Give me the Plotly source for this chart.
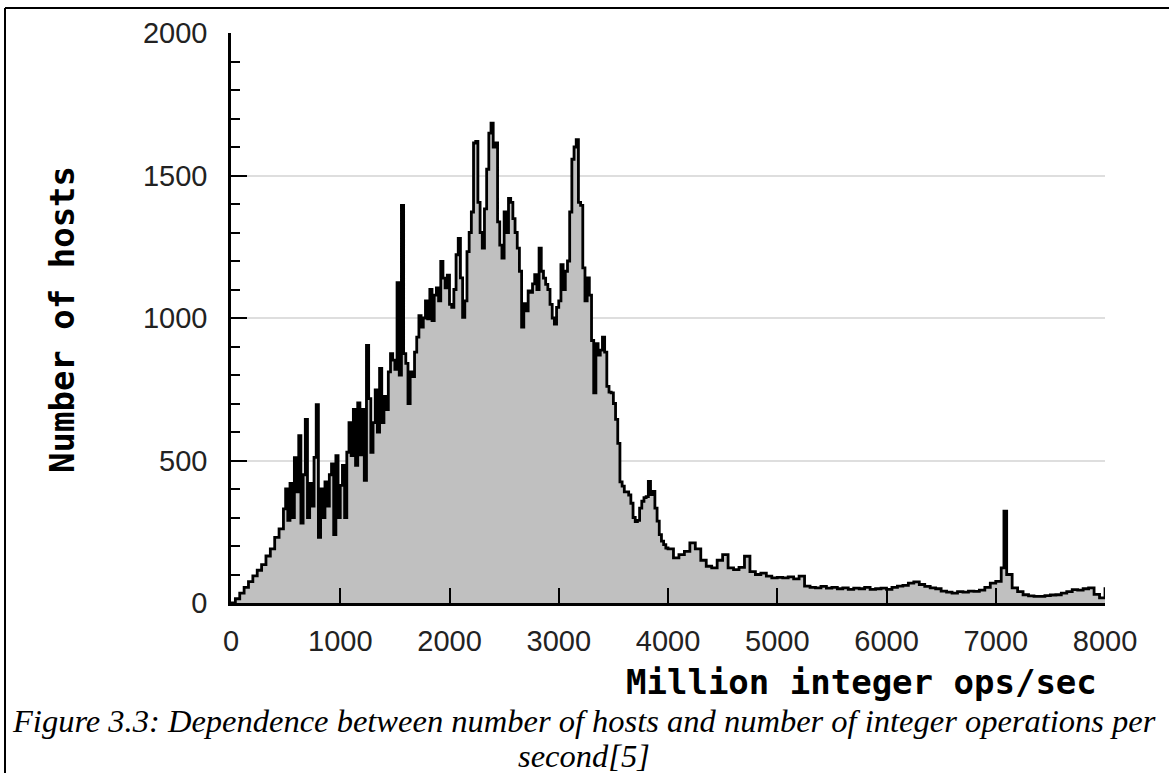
import plotly.graph_objects as go

# ---- data (x: million integer ops/sec, y: number of hosts)
x_a = [0, 40, 80, 120, 160, 200, 240, 280, 320, 360, 400, 440, 480, 500, 520, 540, 560, 580,
       600, 620, 640, 660, 680, 700, 720, 740, 760, 780, 800, 820, 840, 860, 880, 900, 920,
       940, 960, 980, 1000]
y_a = [0, 15, 35, 55, 75, 95, 115, 135, 165, 190, 230, 260, 330, 400, 290, 420, 300, 510,
       390, 587, 280, 450, 644, 300, 420, 340, 511, 696, 230, 400, 300, 425, 340, 450, 488,
       240, 517, 300, 413]

x_b = [1020, 1040, 1060, 1080, 1100, 1120, 1140, 1160, 1180, 1200, 1220, 1240, 1260, 1280,
       1300, 1320, 1340, 1360, 1380, 1400, 1420, 1440, 1460, 1480, 1500, 1520, 1540, 1560,
       1580, 1600, 1620, 1640, 1660, 1680, 1700, 1720, 1740, 1760, 1780, 1800, 1820, 1840,
       1860, 1880, 1900, 1920, 1940, 1960, 1980, 2000]
y_b = [483, 300, 529, 633, 517, 679, 483, 702, 520, 679, 430, 904, 717, 529, 633, 748, 600,
       823, 633, 725, 679, 811, 875, 852, 820, 1124, 800, 1395, 875, 841, 700, 811, 794, 880,
       933, 1008, 968, 1000, 1060, 997, 1100, 991, 1080, 1106, 1060, 1199, 1140, 1106, 1150,
       1048]

x_c = [2020, 2040, 2060, 2080, 2100, 2120, 2140, 2160, 2180, 2200, 2220, 2240, 2260, 2280,
       2300, 2320, 2340, 2360, 2380, 2400, 2420, 2440, 2460, 2480, 2500, 2520, 2540, 2560,
       2580, 2600, 2620, 2640, 2660, 2680, 2700, 2720, 2740, 2760, 2780, 2800, 2820, 2840,
       2860, 2880, 2900, 2920, 2940, 2960, 2980, 3000]
y_c = [1037, 1100, 1222, 1279, 1141, 1002, 1060, 1233, 1300, 1372, 1614, 1620, 1406, 1300,
       1245, 1383, 1522, 1649, 1684, 1600, 1614, 1337, 1256, 1210, 1372, 1300, 1420, 1406,
       1349, 1300, 1245, 1164, 968, 1050, 1025, 1095, 1090, 1120, 1152, 1100, 1245, 1164,
       1140, 1118, 1100, 1048, 1000, 979, 1037, 1060]

x_d = [3020, 3040, 3060, 3080, 3100, 3120, 3140, 3160, 3180, 3200, 3220, 3240, 3260, 3280,
       3300, 3320, 3340, 3360, 3380, 3400, 3420, 3440, 3460, 3480, 3500, 3520, 3540, 3560,
       3580, 3600, 3620, 3640, 3660, 3680, 3700, 3720, 3740, 3760, 3780, 3800, 3820, 3840,
       3860, 3880, 3900, 3920, 3940, 3960, 3980, 4000]
y_d = [1187, 1100, 1164, 1200, 1372, 1557, 1600, 1626, 1406, 1395, 1176, 1060, 1141, 1080,
       921, 737, 910, 870, 887, 933, 880, 760, 740, 737, 700, 644, 560, 425, 410, 390, 390,
       379, 350, 300, 286, 290, 333, 357, 370, 373, 427, 380, 392, 333, 287, 240, 217, 205,
       193, 190]

x_e = [4050, 4100, 4150, 4200, 4250, 4300, 4350, 4400, 4450, 4500, 4550, 4600, 4650, 4700,
       4750, 4800, 4850, 4900, 4950, 5000, 5050, 5100, 5150, 5200, 5250, 5300, 5350, 5400,
       5450, 5500, 5550, 5600, 5650, 5700, 5750, 5800, 5850, 5900, 5950, 6000]
y_e = [158, 170, 181, 211, 190, 150, 129, 123, 150, 170, 123, 117, 125, 164, 110, 100, 105,
       94, 88, 90, 88, 92, 85, 94, 59, 55, 53, 58, 52, 55, 50, 53, 48, 52, 50, 55, 48, 50,
       52, 48]

x_f = [6050, 6100, 6150, 6200, 6250, 6300, 6350, 6400, 6450, 6500, 6550, 6600, 6650, 6700,
       6750, 6800, 6850, 6900, 6950, 7000, 7050, 7075, 7100, 7150, 7200, 7250, 7300, 7350,
       7400, 7450, 7500, 7550, 7600, 7650, 7700, 7750, 7800, 7850, 7900, 7950, 8000]
y_f = [55, 59, 62, 70, 74, 65, 58, 53, 50, 42, 38, 35, 40, 38, 42, 41, 45, 55, 70, 76, 123,
       322, 100, 53, 40, 29, 25, 23, 23, 26, 28, 29, 35, 40, 47, 45, 50, 53, 30, 18, 55]

x_vals = x_a + x_b + x_c + x_d + x_e + x_f
y_vals = y_a + y_b + y_c + y_d + y_e + y_f

x_ticks = [0, 1000, 2000, 3000, 4000, 5000, 6000, 7000, 8000]
y_ticks = [0, 500, 1000, 1500, 2000]

x_title = "Million integer ops/sec"
y_title = "Number of hosts"
caption_1 = "Figure 3.3: Dependence between number of hosts and number of integer operations per"
caption_2 = "second[5]"

# ---- layout geometry (pixels)
W, H = 1169, 773
L, R, T, B = 231, 1105, 33, 603


def px(xp):
    return (xp - L) / (R - L)


def py(yp):
    return (B - yp) / (B - T)


tick_font = dict(family="Liberation Sans", size=29, color="#222222")
title_font = dict(family="DejaVu Sans Mono", size=34, color="black", weight="bold")
cap_font = dict(family="Liberation Serif", size=32.5, color="black", style="italic")

fig = go.Figure()
fig.add_trace(go.Scatter(
    x=x_vals, y=y_vals, mode="lines", line_shape="hv",
    line=dict(color="black", width=2.8),
    fill="tozeroy", fillcolor="#c0c0c0",
    hoverinfo="skip", showlegend=False,
))

fig.update_layout(
    width=W, height=H,
    margin=dict(l=L, r=W - R, t=T, b=H - B, pad=0),
    paper_bgcolor="white", plot_bgcolor="white",
    xaxis=dict(
        range=[0, 8000], tickvals=x_ticks, ticktext=[str(v) for v in x_ticks],
        ticks="inside", ticklen=15, tickwidth=2, tickcolor="black",
        showline=True, linecolor="black", linewidth=2.5,
        showgrid=False, zeroline=False, tickfont=tick_font,
        ticklabelstandoff=10,
    ),
    yaxis=dict(
        range=[0, 2000], tickvals=y_ticks, ticktext=[str(v) for v in y_ticks],
        ticks="inside", ticklen=16, tickwidth=2, tickcolor="black",
        minor=dict(ticks="inside", dtick=100, ticklen=9, tickwidth=2,
                   tickcolor="black", showgrid=False),
        showline=True, linecolor="black", linewidth=2.5,
        showgrid=True, gridcolor="#dedede", gridwidth=2,
        zeroline=False, tickfont=tick_font,
        ticklabelstandoff=15,
    ),
    annotations=[
        dict(text=y_title, x=px(62), y=py(320), xref="paper", yref="paper",
             textangle=-90, showarrow=False, font=title_font,
             xanchor="center", yanchor="middle"),
        dict(text=x_title, x=px(1099), y=py(682), xref="paper", yref="paper",
             showarrow=False, font=title_font, xanchor="right", yanchor="middle"),
        dict(text=caption_1, x=px(584), y=py(721), xref="paper", yref="paper",
             showarrow=False, font=cap_font, xanchor="center", yanchor="middle"),
        dict(text=caption_2, x=px(584), y=py(756), xref="paper", yref="paper",
             showarrow=False, font=cap_font, xanchor="center", yanchor="middle"),
    ],
    shapes=[
        dict(type="line", xref="paper", yref="paper", x0=px(5), x1=px(5),
             y0=py(8), y1=py(780), line=dict(color="black", width=2)),
        dict(type="line", xref="paper", yref="paper", x0=px(5), x1=px(1175),
             y0=py(8), y1=py(8), line=dict(color="black", width=2)),
    ],
)

fig.write_html("out.html")
